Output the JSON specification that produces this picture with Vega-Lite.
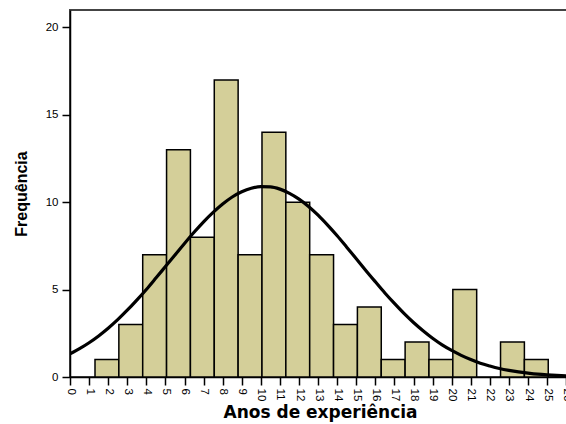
{
  "$schema": "https://vega.github.io/schema/vega-lite/v6.json",
  "autosize": {"type": "none"},
  "padding": {"left": 70, "top": 10, "right": 0, "bottom": 47},
  "width": 500,
  "height": 367,
  "background": "white",
  "config": {
    "view": {"stroke": "#444444", "strokeWidth": 2},
    "axis": {
      "grid": false,
      "domainColor": "black",
      "domainWidth": 1.5,
      "tickColor": "black",
      "tickWidth": 1.5,
      "tickSize": 8,
      "labelColor": "black",
      "labelFont": "Liberation Sans",
      "labelFontSize": 11.5,
      "titleFont": "Liberation Sans",
      "titleColor": "black",
      "titleFontWeight": "bold"
    }
  },
  "datasets": {
    "bins": [
      {"start": 1.31, "end": 2.56, "count": 1},
      {"start": 2.56, "end": 3.81, "count": 3},
      {"start": 3.81, "end": 5.06, "count": 7},
      {"start": 5.06, "end": 6.31, "count": 13},
      {"start": 6.31, "end": 7.56, "count": 8},
      {"start": 7.56, "end": 8.81, "count": 17},
      {"start": 8.81, "end": 10.06, "count": 7},
      {"start": 10.06, "end": 11.31, "count": 14},
      {"start": 11.31, "end": 12.56, "count": 10},
      {"start": 12.56, "end": 13.81, "count": 7},
      {"start": 13.81, "end": 15.06, "count": 3},
      {"start": 15.06, "end": 16.31, "count": 4},
      {"start": 16.31, "end": 17.56, "count": 1},
      {"start": 17.56, "end": 18.81, "count": 2},
      {"start": 18.81, "end": 20.06, "count": 1},
      {"start": 20.06, "end": 21.31, "count": 5},
      {"start": 22.56, "end": 23.81, "count": 2},
      {"start": 23.81, "end": 25.06, "count": 1}
    ],
    "curve": [
      {"x": 0, "y": 1.32}, {"x": 0.5, "y": 1.62}, {"x": 1, "y": 1.96}, {"x": 1.5, "y": 2.35},
      {"x": 2, "y": 2.79}, {"x": 2.5, "y": 3.28}, {"x": 3, "y": 3.82}, {"x": 3.5, "y": 4.40},
      {"x": 4, "y": 5.01}, {"x": 4.5, "y": 5.66}, {"x": 5, "y": 6.32}, {"x": 5.5, "y": 6.98},
      {"x": 6, "y": 7.64}, {"x": 6.5, "y": 8.28}, {"x": 7, "y": 8.88}, {"x": 7.5, "y": 9.42},
      {"x": 8, "y": 9.90}, {"x": 8.5, "y": 10.30}, {"x": 9, "y": 10.60}, {"x": 9.5, "y": 10.80},
      {"x": 10, "y": 10.89}, {"x": 10.5, "y": 10.88}, {"x": 11, "y": 10.75}, {"x": 11.5, "y": 10.51},
      {"x": 12, "y": 10.18}, {"x": 12.5, "y": 9.76}, {"x": 13, "y": 9.26}, {"x": 13.5, "y": 8.69},
      {"x": 14, "y": 8.08}, {"x": 14.5, "y": 7.43}, {"x": 15, "y": 6.77}, {"x": 15.5, "y": 6.10},
      {"x": 16, "y": 5.45}, {"x": 16.5, "y": 4.81}, {"x": 17, "y": 4.21}, {"x": 17.5, "y": 3.64},
      {"x": 18, "y": 3.12}, {"x": 18.5, "y": 2.65}, {"x": 19, "y": 2.22}, {"x": 19.5, "y": 1.84},
      {"x": 20, "y": 1.52}, {"x": 20.5, "y": 1.24}, {"x": 21, "y": 1.00}, {"x": 21.5, "y": 0.79},
      {"x": 22, "y": 0.63}, {"x": 22.5, "y": 0.49}, {"x": 23, "y": 0.38}, {"x": 23.5, "y": 0.29},
      {"x": 24, "y": 0.22}, {"x": 24.5, "y": 0.16}, {"x": 25, "y": 0.12}, {"x": 25.5, "y": 0.09},
      {"x": 26, "y": 0.07}
    ]
  },
  "layer": [
    {
      "data": {"name": "bins"},
      "mark": {"type": "bar", "fill": "#D4CF99", "stroke": "black", "strokeWidth": 1.5},
      "encoding": {
        "x": {
          "field": "start", "type": "quantitative",
          "scale": {"domain": [0, 26.2], "nice": false, "zero": false},
          "axis": {
            "values": [0,1,2,3,4,5,6,7,8,9,10,11,12,13,14,15,16,17,18,19,20,21,22,23,24,25,26],
            "labelAngle": 90,
            "labelPadding": 3,
            "labelOverlap": false,
            "labelBound": false,
            "labelFlush": false,
            "title": "Anos de experiência",
            "titleFont": "DejaVu Sans",
            "titleFontSize": 17,
            "titlePadding": 4
          }
        },
        "x2": {"field": "end"},
        "y": {
          "field": "count", "type": "quantitative",
          "scale": {"domain": [0, 21], "nice": false},
          "axis": {
            "values": [0, 5, 10, 15, 20],
            "title": "Frequência",
            "titleFontSize": 16,
            "titlePadding": 16,
            "labelPadding": 4
          }
        },
        "y2": {"datum": 0}
      }
    },
    {
      "data": {"name": "curve"},
      "mark": {"type": "line", "color": "black", "strokeWidth": 3.2, "interpolate": "monotone", "clip": true},
      "encoding": {
        "x": {
          "field": "x", "type": "quantitative",
          "axis": {
            "values": [0,1,2,3,4,5,6,7,8,9,10,11,12,13,14,15,16,17,18,19,20,21,22,23,24,25,26],
            "labelAngle": 90,
            "labelPadding": 3,
            "labelOverlap": false,
            "labelBound": false,
            "labelFlush": false,
            "title": "Anos de experiência",
            "titleFont": "DejaVu Sans",
            "titleFontSize": 17,
            "titlePadding": 4
          }
        },
        "y": {
          "field": "y", "type": "quantitative",
          "axis": {
            "values": [0, 5, 10, 15, 20],
            "title": "Frequência",
            "titleFontSize": 16,
            "titlePadding": 16,
            "labelPadding": 4
          }
        }
      }
    }
  ]
}
